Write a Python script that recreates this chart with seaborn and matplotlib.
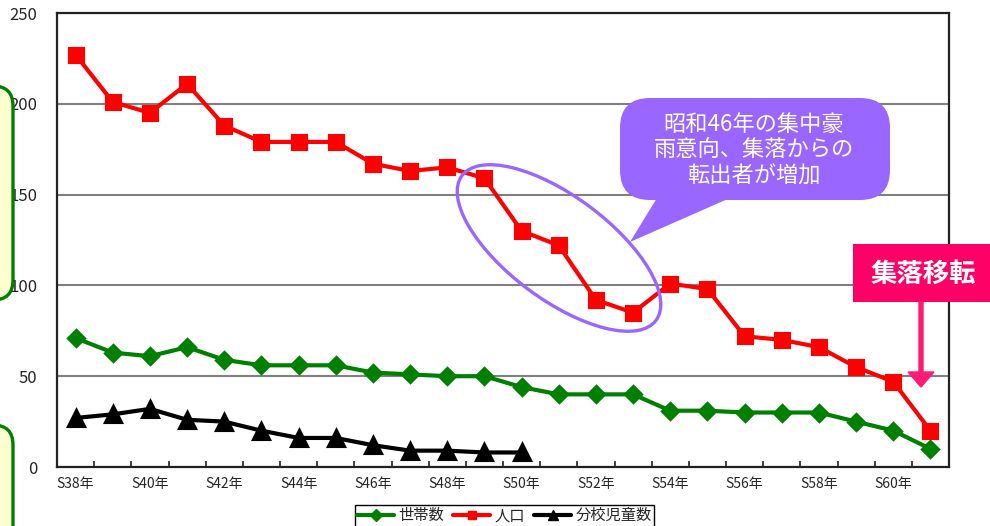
import matplotlib
matplotlib.use("Agg")
import matplotlib.pyplot as plt
import seaborn as sns
from matplotlib.patches import FancyBboxPatch, Ellipse, Polygon, FancyArrow
from matplotlib.lines import Line2D

# 年次 (昭和)
years = ["S38年", "S39年", "S40年", "S41年", "S42年", "S43年", "S44年", "S45年",
         "S46年", "S47年", "S48年", "S49年", "S50年", "S51年", "S52年", "S53年",
         "S54年", "S55年", "S56年", "S57年", "S58年", "S59年", "S60年", "S61年"]
households = [71, 63, 61, 66, 59, 56, 56, 56, 52, 51, 50, 50,
              44, 40, 40, 40, 31, 31, 30, 30, 30, 25, 20, 10]
population = [227, 201, 195, 211, 188, 179, 179, 179, 167, 163, 165, 159,
              130, 122, 92, 85, 101, 98, 72, 70, 66, 55, 47, 20]
pupils = [27, 29, 32, 26, 25, 20, 16, 16, 12, 9, 9, 8, 8]
shown_years = years[::2]
y_ticks = [0, 50, 100, 150, 200, 250]

sns.set_style("white")
plt.rcParams["font.family"] = ["Noto Sans CJK JP", "DejaVu Sans"]

W, H = 990, 526
fig = plt.figure(figsize=(W / 100, H / 100), dpi=100)
ax = fig.add_axes([57 / W, (H - 467) / H, 892 / W, 454 / H])
tr = fig.dpi_scale_trans


def px(x, y):
    return (x / 100, (H - y) / 100)


common = dict(order=years, errorbar=None, ax=ax)
sns.pointplot(x=years, y=households, color="#008000", marker="D",
              markersize=8.5, linewidth=3, **common)
sns.pointplot(x=years, y=population, color="#ff0000", marker="s",
              markersize=10, linewidth=3, **common)
sns.pointplot(x=years[:len(pupils)], y=pupils, color="#000000", marker="^",
              markersize=11, linewidth=3, **common)

ax.set_xlim(-0.5, len(years) - 0.5)
ax.set_ylim(0, 250)
ax.set_yticks(y_ticks)
ax.set_yticklabels([str(v) for v in y_ticks], fontsize=12)
ax.set_xticks(range(0, len(years), 2))
ax.set_xticklabels(shown_years, fontsize=10)
ax.set_xticks([i - 0.5 for i in range(1, len(years))], minor=True)
ax.tick_params(axis="x", which="major", bottom=True, length=0, pad=7)
ax.tick_params(axis="x", which="minor", bottom=True, direction="in",
               length=4, width=1.2, color="#222222")
ax.tick_params(axis="y", length=0, pad=14)
ax.set_xlabel("")
ax.set_ylabel("")
ax.yaxis.grid(True, color="#808080", linewidth=1.5)
ax.xaxis.grid(False)
ax.set_axisbelow(True)
for s in ax.spines.values():
    s.set_color("#222222")
    s.set_linewidth(1.6)

# 左側の枠
for top, bottom in [(86, 300), (425, 700)]:
    x0, y0 = px(-120, bottom)
    fig.add_artist(FancyBboxPatch(
        (x0, y0), (13 + 120) / 100, (bottom - top) / 100,
        boxstyle="round,pad=0,rounding_size=0.2", transform=tr,
        facecolor="#ffffd0", edgecolor="#008000", linewidth=2.4))

# 急減期の楕円
fig.add_artist(Ellipse(px(559, 248), 2.42, 1.03, angle=-36.7, transform=tr,
                       fill=False, edgecolor="#9966ff", linewidth=2.4,
                       zorder=3))

# 吹き出し
callout = "#9966ff"
bx0, by1 = px(620, 200)
fig.add_artist(FancyBboxPatch((bx0, by1), 2.70, 1.02,
                              boxstyle="round,pad=0,rounding_size=0.3",
                              transform=tr, facecolor=callout,
                              edgecolor="none", zorder=4))
fig.add_artist(Polygon([px(657, 198), px(730, 198), px(630, 242)],
                       closed=True, transform=tr, facecolor=callout,
                       edgecolor="none", zorder=4))
fig.text(*px(754, 150), "昭和46年の集中豪\n雨意向、集落からの\n転出者が増加",
         transform=tr, ha="center", va="center", color="white",
         fontsize=16, linespacing=1.15, zorder=5)

# 集落移転
pink = "#ff0066"
px0, py1 = px(853, 302)
fig.add_artist(FancyBboxPatch((px0, py1), 1.50, 0.58,
                              boxstyle="square,pad=0", transform=tr,
                              facecolor=pink, edgecolor="none", zorder=4))
fig.text(*px(923, 274), "集落移転", transform=tr, ha="center", va="center",
         color="white", fontsize=19, fontweight="bold", zorder=5)
ax_x, ax_y = px(921, 302)
fig.add_artist(FancyArrow(ax_x, ax_y, 0, -0.85, width=0.04, head_width=0.26,
                          head_length=0.15, length_includes_head=True,
                          transform=tr, color="#ff1a75", zorder=4))

# 凡例
handles = [
    Line2D([], [], color="#008000", marker="D", markersize=6, linewidth=3),
    Line2D([], [], color="#ff0000", marker="s", markersize=6, linewidth=3),
    Line2D([], [], color="#000000", marker="^", markersize=7, linewidth=3),
]
fig.legend(handles, ["世帯数", "人口", "分校児童数"], loc="upper left",
           bbox_to_anchor=px(355, 505), bbox_transform=tr, ncol=3,
           fontsize=11, frameon=True, fancybox=False, edgecolor="#000000",
           framealpha=1, borderpad=0.15, handlelength=2.4,
           handletextpad=0.3, columnspacing=0.6, borderaxespad=0)

fig.savefig("out.png", dpi=100)
